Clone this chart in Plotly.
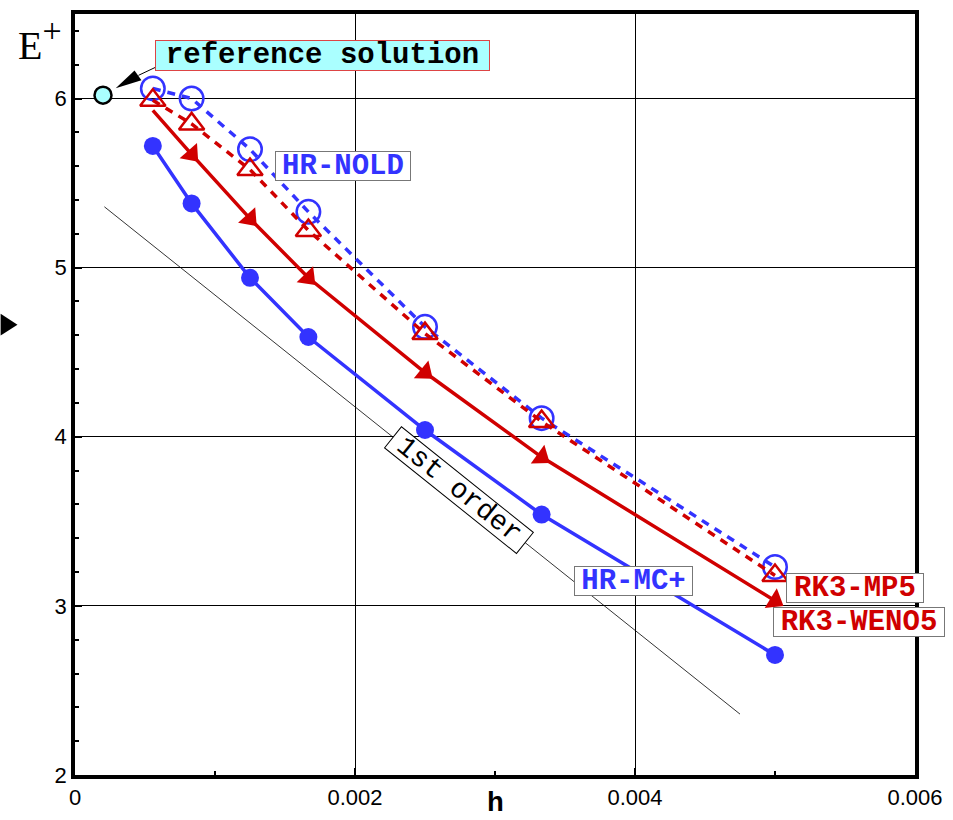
import plotly.graph_objects as go

# Grid spacing h and energy E+ for each scheme
h = [0.000556, 0.000833, 0.00125, 0.001667, 0.0025, 0.003333, 0.005]
e_hr_nold = [6.06, 6.00, 5.70, 5.33, 4.65, 4.11, 3.23]
e_rk3_mp5 = [5.99, 5.85, 5.58, 5.22, 4.61, 4.09, 3.18]
e_rk3_weno5 = [5.93, 5.67, 5.29, 4.94, 4.38, 3.88, 3.03]
e_hr_mcp = [5.72, 5.38, 4.94, 4.59, 4.04, 3.54, 2.71]

h_ref = [0.0002]
e_ref = [6.02]

# first-order slope guide
h_first = [0.00021, 0.00475]
e_first = [5.36, 2.36]

x_ticks = [0, 0.002, 0.004, 0.006]
x_tick_text = ["0", "0.002", "0.004", "0.006"]
y_ticks = [2, 3, 4, 5, 6]

BLUE = "#3333ff"
RED = "#d00000"

W, H = 953, 820
ML, MR, MT, MB = 75, 31, 10, 41
PW, PH = W - ML - MR, H - MT - MB


def px(xp):
    return (xp - ML) / PW


def py(yp):
    return (H - MB - yp) / PH


fig = go.Figure()

fig.add_trace(go.Scatter(x=h_first, y=e_first, mode="lines",
                         line=dict(color="black", width=0.8), showlegend=False))
fig.add_trace(go.Scatter(x=h, y=e_hr_mcp, mode="lines+markers",
                         line=dict(color=BLUE, width=3.5),
                         marker=dict(symbol="circle", size=18, color=BLUE),
                         showlegend=False))
fig.add_trace(go.Scatter(x=h, y=e_rk3_weno5, mode="lines+markers",
                         line=dict(color=RED, width=3.5),
                         marker=dict(symbol="triangle-up", size=20, color=RED,
                                     angleref="previous", angle=0),
                         showlegend=False))
fig.add_trace(go.Scatter(x=h, y=e_hr_nold, mode="lines+markers",
                         line=dict(color=BLUE, width=3.5, dash="8px,7px"),
                         marker=dict(symbol="circle-open", size=23.5, color=BLUE,
                                     line=dict(width=2.5, color=BLUE)),
                         showlegend=False))
fig.add_trace(go.Scatter(x=h, y=e_rk3_mp5, mode="lines+markers",
                         line=dict(color=RED, width=3.5, dash="8px,7px"),
                         marker=dict(symbol="triangle-up-open", size=22, color=RED,
                                     line=dict(width=2.5, color=RED)),
                         showlegend=False))
fig.add_trace(go.Scatter(x=h_ref, y=e_ref, mode="markers",
                         marker=dict(symbol="circle", size=17, color="#aaffff",
                                     line=dict(width=2.5, color="black")),
                         showlegend=False))

mono = "Liberation Mono, Courier New, monospace"


def label(text, cx, cy, w, hgt, color, border, bg="white", size=29,
          weight="bold", angle=0):
    return dict(text=text, x=px(cx), y=py(cy), xref="paper", yref="paper",
                xanchor="center", yanchor="middle", showarrow=False,
                width=w, height=hgt, borderpad=0, borderwidth=1,
                bordercolor=border, bgcolor=bg, textangle=angle,
                font=dict(family=mono, size=size, color=color, weight=weight))


annotations = [
    label("reference solution", 325, 52, 333, 29, "black", "#dd4444", bg="#aaffff"),
    label("HR-NOLD", 345, 164, 134, 28, BLUE, "#777777"),
    label("HR-MC+", 638, 583, 117, 28, BLUE, "#777777"),
    label("RK3-MP5", 861, 590, 136, 28, RED, "#777777"),
    label("RK3-WENO5", 866, 624, 170, 28, RED, "#777777"),
    label("1st order", 462, 491, 168, 26, "black", "black", size=28,
          weight="normal", angle=38.7),
    dict(text="E<sup><span style='font-size:34px'>+</span></sup>",
         x=px(40), y=py(36), xref="paper", yref="paper",
         xanchor="center", yanchor="middle", showarrow=False,
         font=dict(family="Liberation Serif, Times New Roman, serif", size=40,
                   color="black")),
    dict(text="h", x=px(499), y=py(808), xref="paper", yref="paper",
         xanchor="center", yanchor="middle", showarrow=False,
         font=dict(family=mono, size=28, color="black", weight="bold")),
]

shapes = [
    # pointer from the label to the reference solution
    dict(type="line", xref="paper", yref="paper",
         x0=px(139), y0=py(72), x1=px(158), y1=py(63),
         line=dict(color="black", width=1)),
    dict(type="path", xref="paper", yref="paper",
         path=f"M {px(116)} {py(85)} L {px(135)} {py(67)} L {px(142)} {py(77)} Z",
         fillcolor="black", line=dict(width=0)),
    # side marker on the left edge
    dict(type="path", xref="paper", yref="paper",
         path=f"M {px(0)} {py(313)} L {px(17)} {py(324)} L {px(0)} {py(335)} Z",
         fillcolor="black", line=dict(width=0)),
]

tick_font = dict(family="Liberation Sans Narrow, Liberation Sans, Arial, sans-serif",
                 size=22, color="black")

fig.update_layout(
    width=W, height=H,
    margin=dict(l=ML, r=MR, t=MT, b=MB),
    paper_bgcolor="white", plot_bgcolor="white",
    annotations=annotations, shapes=shapes,
    xaxis=dict(range=[0, 0.006], tickvals=x_ticks, ticktext=x_tick_text,
               showgrid=True, gridcolor="black", gridwidth=1,
               zeroline=False, showline=True, linecolor="black", linewidth=3.5,
               mirror=True, ticks="inside", ticklen=7, tickwidth=2,
               tickcolor="black", tickfont=tick_font,
               minor=dict(dtick=0.001, ticks="inside", ticklen=4,
                          tickcolor="black", tickwidth=2, showgrid=False)),
    yaxis=dict(range=[2, 6.5], tickvals=y_ticks,
               showgrid=True, gridcolor="black", gridwidth=1,
               zeroline=False, showline=True, linecolor="black", linewidth=3.5,
               mirror=True, ticks="inside", ticklen=7, tickwidth=2,
               tickcolor="black", tickfont=tick_font,
               minor=dict(dtick=0.2, ticks="inside", ticklen=4,
                          tickcolor="black", tickwidth=2, showgrid=False)),
)

fig.write_html("out.html")
